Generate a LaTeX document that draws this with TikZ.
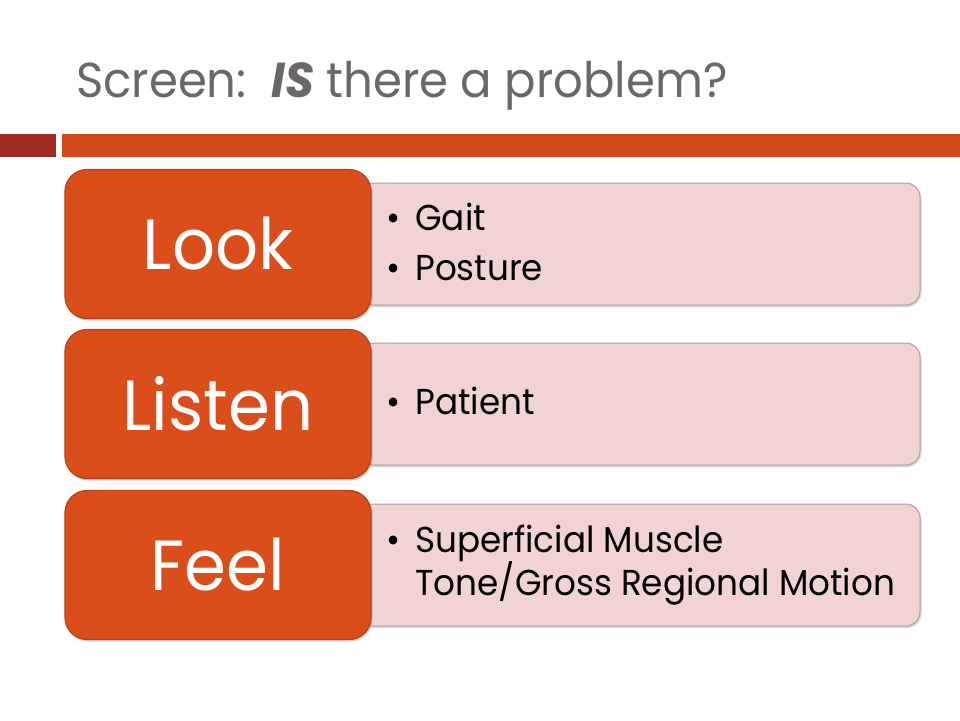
\documentclass[tikz,border=0pt]{standalone}
\usepackage{fontspec}
\setmainfont[FakeStretch=0.95]{Poppins}
\usetikzlibrary{shadows}
\definecolor{barorange}{HTML}{D24A1C}
\definecolor{bardark}{HTML}{9E2B22}
\definecolor{boxorange}{HTML}{DA4E1C}
\definecolor{boxedge}{HTML}{B83F16}
\definecolor{pinkfill}{HTML}{F0D3D2}
\definecolor{pinkedge}{HTML}{A9A2A2}
\definecolor{titlegray}{HTML}{6B6767}
\tikzset{
  bigbox/.style={draw=boxedge, line width=1.2pt, fill=boxorange, rounded corners=22pt,
    minimum width=306pt, minimum height=149pt, inner sep=0pt,
    text=white, font=\fontsize{71}{80}\selectfont,
    drop shadow={shadow xshift=1.5pt, shadow yshift=-2pt, opacity=0.35}},
  pinkbox/.style={draw=pinkedge, line width=1pt, fill=pinkfill, rounded corners=14pt,
    minimum width=560pt, minimum height=122pt, inner sep=0pt,
    drop shadow={shadow xshift=1.5pt, shadow yshift=-2pt, opacity=0.3}},
  itemtext/.style={anchor=west, font=\fontsize{36}{40}\selectfont, text=black, inner sep=0pt, align=left},
}
\begin{document}
\begin{tikzpicture}[x=1pt,y=-1pt]
\useasboundingbox[fill=white] (0,0) rectangle (960,720);
% title
\node[anchor=base west, inner sep=0pt, text=titlegray, font=\fontsize{49}{52}\selectfont] (title) at (76,97)
  {Screen:\ \ \textbf{\textit{IS}} there a problem?};
% bars
\fill[bardark] (0,134) rectangle (56,157);
\fill[barorange] (62,134) rectangle (960,157);
% row 1
\node[pinkbox] (p1) at (640,244) {};
\node[bigbox] (b1) at (218,244) {Look};
\node[itemtext] (t1) at (386,247) {\begin{tabular}{@{}l@{\hspace{15pt}}l@{}}\textbullet & Gait\\[10pt] \textbullet & Posture\end{tabular}};
% row 2
\node[pinkbox] (p2) at (640,404) {};
\node[bigbox] (b2) at (218,404) {Listen};
\node[itemtext] (t2) at (386,406) {\begin{tabular}{@{}l@{\hspace{15pt}}l@{}}\textbullet & Patient\end{tabular}};
% row 3
\node[pinkbox] (p3) at (640,565) {};
\node[bigbox] (b3) at (218,565) {Feel};
\node[itemtext] (t3) at (386,566) {\begin{tabular}{@{}l@{\hspace{15pt}}l@{}}\textbullet & Superficial Muscle\\[-3pt] & Tone/Gross Regional Motion\end{tabular}};
\end{tikzpicture}
\end{document}
